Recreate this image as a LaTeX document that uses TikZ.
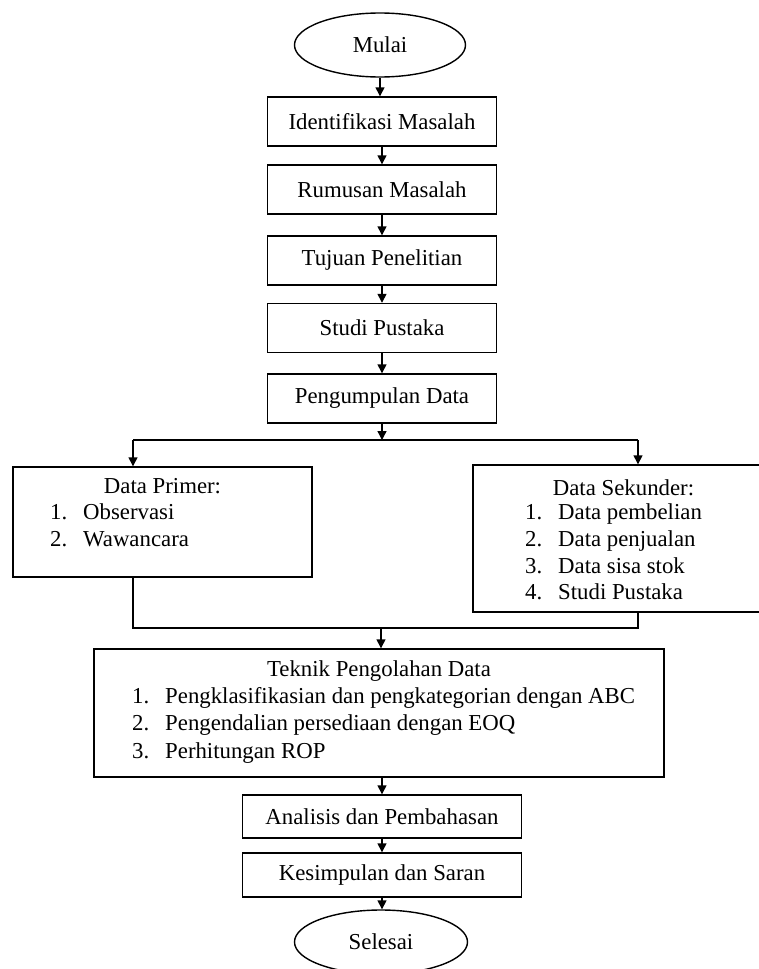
\documentclass[tikz,border=0pt]{standalone}
\usepackage{fontspec}
\setmainfont{Liberation Serif}
\usetikzlibrary{arrows.meta,shapes.geometric}
\begin{document}
\begin{tikzpicture}[x=1pt,y=-1pt,
  every node/.style={font=\fontsize{22.8}{27}\selectfont},
  line/.style={line width=1.4pt},
  arr/.style={line, -{Triangle[length=9pt,width=9pt]}},
  terminal/.style={ellipse, draw, line width=1.4pt, minimum width=171pt, minimum height=64pt, inner sep=0pt},
  procbox/.style={rectangle, draw, line width=1.4pt, minimum width=229pt, minimum height=49pt, inner sep=0pt},
  listbox/.style={rectangle, draw, line width=1.4pt, inner sep=0pt},
  txt/.style={anchor=base west, inner sep=0pt},
  head/.style={anchor=base, inner sep=0pt}]
\useasboundingbox (0,0) rectangle (759,969);
\fill[white] (0,0) rectangle (759,969);
\clip (0,0) rectangle (759,969);

% main column
\node[terminal] (start) at (380,45) {Mulai};
\node[procbox] (b1) at (382,121.5) {Identifikasi Masalah};
\node[procbox] (b2) at (382,189.5) {Rumusan Masalah};
\node[procbox] (b3) at (382,260.5) {Tujuan Penelitian};
\node[procbox] (b4) at (382,328) {Studi Pustaka};
\node[procbox] (b5) at (382,398.5) {Pengumpulan Data};

% data boxes
\node[listbox, minimum width=299pt, minimum height=110pt] (prim) at (162.5,522) {};
\node[head] (primh) at (162.5,493.5) {Data Primer:};
\node[txt] (p1n) at (50,519.5) {1.};
\node[txt] (p1t) at (83,519.5) {Observasi};
\node[txt] (p2n) at (50,546) {2.};
\node[txt] (p2t) at (83,546) {Wawancara};

\node[listbox, minimum width=301pt, minimum height=147pt] (sek) at (623.5,538.5) {};
\node[head] (sekh) at (623.5,495) {Data Sekunder:};
\node[txt] (s1n) at (525,519.5) {1.};
\node[txt] (s1t) at (558,519.5) {Data pembelian};
\node[txt] (s2n) at (525,546.5) {2.};
\node[txt] (s2t) at (558,546.5) {Data penjualan};
\node[txt] (s3n) at (525,573) {3.};
\node[txt] (s3t) at (558,573) {Data sisa stok};
\node[txt] (s4n) at (525,599) {4.};
\node[txt] (s4t) at (558,599) {Studi Pustaka};

% processing box
\node[listbox, minimum width=570pt, minimum height=128pt] (tek) at (379,713) {};
\node[head] (tekh) at (379,676.5) {Teknik Pengolahan Data};
\node[txt] (t1n) at (132,703.5) {1.};
\node[txt] (t1t) at (165,703.5) {Pengklasifikasian dan pengkategorian dengan ABC};
\node[txt] (t2n) at (132,730.5) {2.};
\node[txt] (t2t) at (165,730.5) {Pengendalian persediaan dengan EOQ};
\node[txt] (t3n) at (132,758.5) {3.};
\node[txt] (t3t) at (165,758.5) {Perhitungan ROP};

\node[procbox, minimum width=279pt, minimum height=43pt] (ana) at (382,816.5) {Analisis dan Pembahasan};
\node[procbox, minimum width=279pt, minimum height=44pt] (kes) at (382,875) {Kesimpulan dan Saran};
\node[terminal, minimum width=173pt] (end) at (381,942) {Selesai};

% connectors
\draw[arr] (start.south) -- (start.south |- b1.north);
\draw[arr] (b1) -- (b2);
\draw[arr] (b2) -- (b3);
\draw[arr] (b3) -- (b4);
\draw[arr] (b4) -- (b5);

\coordinate (sp) at (382,440);
\coordinate (sl) at (133,440);
\coordinate (sr) at (638,440);
\draw[line] (sl) -- (sr);
\draw[arr] (b5.south) -- (sp);
\draw[arr] (sl) -- (sl |- prim.north);
\draw[arr] (sr) -- (sr |- sek.north);

\coordinate (ml) at (133,628);
\coordinate (mr) at (638,628);
\coordinate (mj) at (381,628);
\draw[line] (ml |- prim.south) -- (ml) -- (mr) -- (mr |- sek.south);
\draw[arr] (mj) -- (mj |- tek.north);

\draw[arr] (tek.south -| ana) -- (ana.north);
\draw[arr] (ana) -- (kes);
\draw[arr] (kes.south) -- (kes.south |- end.north);
\end{tikzpicture}
\end{document}
